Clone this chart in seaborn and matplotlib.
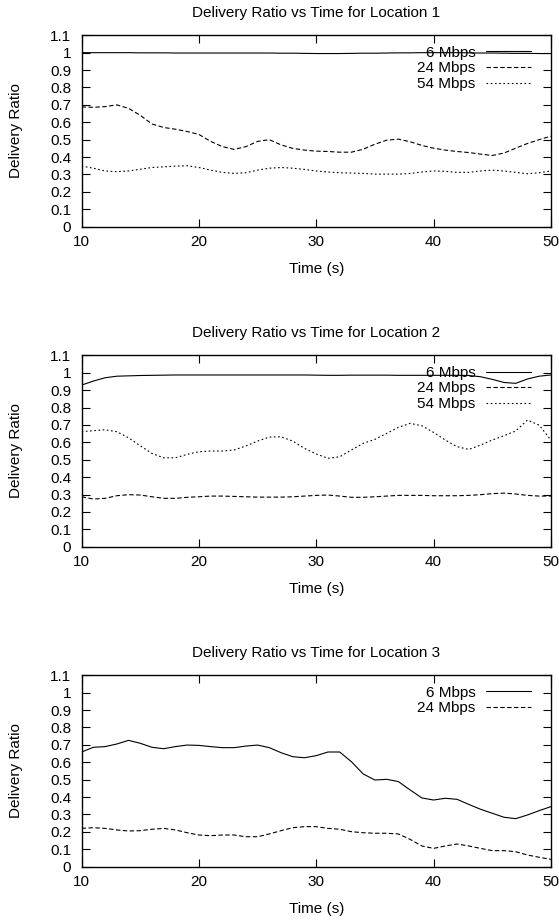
import numpy as np
import pandas as pd
import seaborn as sns
import matplotlib.pyplot as plt
from matplotlib.ticker import FormatStrFormatter

# time axis (s)
time = list(range(10, 51))

# Location 1
loc1_6 = [1.0, 1.0, 1.0, 1.0, 1.0, 0.999, 0.999, 0.999, 0.998, 0.998, 0.998,
          0.998, 0.998, 0.998, 0.998, 0.998, 0.998, 0.997, 0.997, 0.996, 0.995,
          0.995, 0.995, 0.996, 0.997, 0.997, 0.998, 0.999, 0.999, 1.0, 1.0,
          1.0, 1.0, 0.999, 0.998, 0.998, 0.997, 0.996, 0.996, 0.995, 0.995]
loc1_24 = [0.688, 0.686, 0.69, 0.70, 0.68, 0.64, 0.59, 0.57, 0.56, 0.547, 0.53,
           0.49, 0.46, 0.444, 0.46, 0.49, 0.50, 0.47, 0.45, 0.44, 0.434,
           0.432, 0.428, 0.428, 0.445, 0.474, 0.497, 0.503, 0.488, 0.467, 0.451,
           0.44, 0.432, 0.426, 0.417, 0.409, 0.423, 0.451, 0.478, 0.50, 0.52]
loc1_54 = [0.348, 0.336, 0.32, 0.316, 0.32, 0.33, 0.34, 0.344, 0.348, 0.35, 0.34,
           0.325, 0.312, 0.306, 0.31, 0.325, 0.336, 0.34, 0.336, 0.329, 0.32,
           0.314, 0.31, 0.308, 0.306, 0.302, 0.302, 0.302, 0.306, 0.314, 0.32,
           0.318, 0.312, 0.312, 0.32, 0.325, 0.32, 0.312, 0.304, 0.31, 0.32]

# Location 2
loc2_6 = [0.929, 0.952, 0.971, 0.98, 0.982, 0.984, 0.985, 0.986, 0.987, 0.987, 0.987,
          0.987, 0.987, 0.987, 0.987, 0.987, 0.987, 0.987, 0.987, 0.987, 0.986,
          0.985, 0.985, 0.986, 0.986, 0.986, 0.986, 0.985, 0.985, 0.985, 0.985,
          0.985, 0.985, 0.984, 0.977, 0.962, 0.944, 0.939, 0.964, 0.98, 0.987]
loc2_24 = [0.287, 0.274, 0.278, 0.293, 0.299, 0.297, 0.287, 0.278, 0.278, 0.284, 0.287,
           0.291, 0.291, 0.289, 0.287, 0.285, 0.285, 0.285, 0.287, 0.291, 0.295,
           0.297, 0.291, 0.284, 0.284, 0.287, 0.291, 0.295, 0.295, 0.295, 0.293,
           0.293, 0.293, 0.295, 0.299, 0.305, 0.308, 0.303, 0.295, 0.291, 0.291]
loc2_54 = [0.661, 0.667, 0.672, 0.661, 0.626, 0.58, 0.536, 0.511, 0.511, 0.531, 0.546,
           0.55, 0.55, 0.556, 0.579, 0.607, 0.63, 0.632, 0.607, 0.565, 0.533,
           0.508, 0.517, 0.556, 0.594, 0.617, 0.651, 0.686, 0.709, 0.695, 0.657,
           0.613, 0.575, 0.559, 0.584, 0.613, 0.638, 0.665, 0.728, 0.699, 0.613]

# Location 3
loc3_6 = [0.659, 0.686, 0.69, 0.705, 0.726, 0.709, 0.686, 0.678, 0.69, 0.699, 0.697,
          0.69, 0.684, 0.684, 0.693, 0.699, 0.684, 0.655, 0.632, 0.626, 0.638,
          0.659, 0.659, 0.603, 0.533, 0.498, 0.502, 0.489, 0.441, 0.395, 0.383,
          0.393, 0.387, 0.358, 0.33, 0.307, 0.284, 0.276, 0.297, 0.322, 0.345]
loc3_24 = [0.22, 0.224, 0.22, 0.211, 0.205, 0.207, 0.215, 0.22, 0.211, 0.195, 0.182,
           0.178, 0.182, 0.182, 0.172, 0.172, 0.188, 0.207, 0.224, 0.23, 0.23,
           0.22, 0.215, 0.201, 0.195, 0.192, 0.192, 0.188, 0.157, 0.119, 0.105,
           0.119, 0.13, 0.119, 0.105, 0.092, 0.092, 0.086, 0.067, 0.054, 0.042]

panels = [
    ("Delivery Ratio vs Time for Location 1",
     {"6 Mbps": loc1_6, "24 Mbps": loc1_24, "54 Mbps": loc1_54}),
    ("Delivery Ratio vs Time for Location 2",
     {"6 Mbps": loc2_6, "24 Mbps": loc2_24, "54 Mbps": loc2_54}),
    ("Delivery Ratio vs Time for Location 3",
     {"6 Mbps": loc3_6, "24 Mbps": loc3_24}),
]

line_styles = {"6 Mbps": "-", "24 Mbps": (0, (4.0, 2.2)), "54 Mbps": (0, (1.5, 2.3))}

sns.set_style("ticks")
plt.rcParams["font.family"] = ["Liberation Sans", "DejaVu Sans"]
plt.rcParams["text.color"] = "black"
plt.rcParams["axes.labelcolor"] = "black"
fs = 11

fig = plt.figure(figsize=(5.59, 9.21), dpi=100)
bottoms = [0.7539, 0.4064, 0.0590]

for (title, series), b in zip(panels, bottoms):
    ax = fig.add_axes([0.146, b, 0.8395, 0.2078])
    for name, vals in series.items():
        df = pd.DataFrame({"Time (s)": time, "Delivery Ratio": vals})
        sns.lineplot(data=df, x="Time (s)", y="Delivery Ratio", ax=ax,
                     color="black", linewidth=0.8, label=name,
                     linestyle=line_styles[name])
    ax.set_xlim(10, 50)
    ax.set_ylim(0, 1.1)
    ax.set_xticks([10, 20, 30, 40, 50])
    ax.set_yticks(np.round(np.arange(0, 1.11, 0.1), 1))
    ax.yaxis.set_major_formatter(FormatStrFormatter("%g"))
    ax.tick_params(direction="in", top=True, right=True, length=6,
                   width=0.8, labelsize=fs, colors="black")
    ax.tick_params(axis="x", pad=6)
    ax.tick_params(axis="y", pad=7.5)
    for sp in ax.spines.values():
        sp.set_linewidth(1.0)
        sp.set_color("black")
    ax.set_title(title, fontsize=fs, pad=13, color="black")
    ax.set_xlabel("Time (s)", fontsize=fs)
    ax.set_ylabel("Delivery Ratio", fontsize=fs)
    ax.xaxis.set_label_coords(0.5, -0.185)
    ax.yaxis.set_label_coords(-0.125, 0.5)
    leg = ax.legend(loc="upper right", bbox_to_anchor=(0.957, 0.945), frameon=False,
                    markerfirst=False, borderaxespad=0, borderpad=0,
                    handlelength=2.95, handletextpad=0.65, labelspacing=0.1,
                    fontsize=fs)
    for t in leg.get_texts():
        t.set_color("black")

fig.savefig("out.png", dpi=100)
